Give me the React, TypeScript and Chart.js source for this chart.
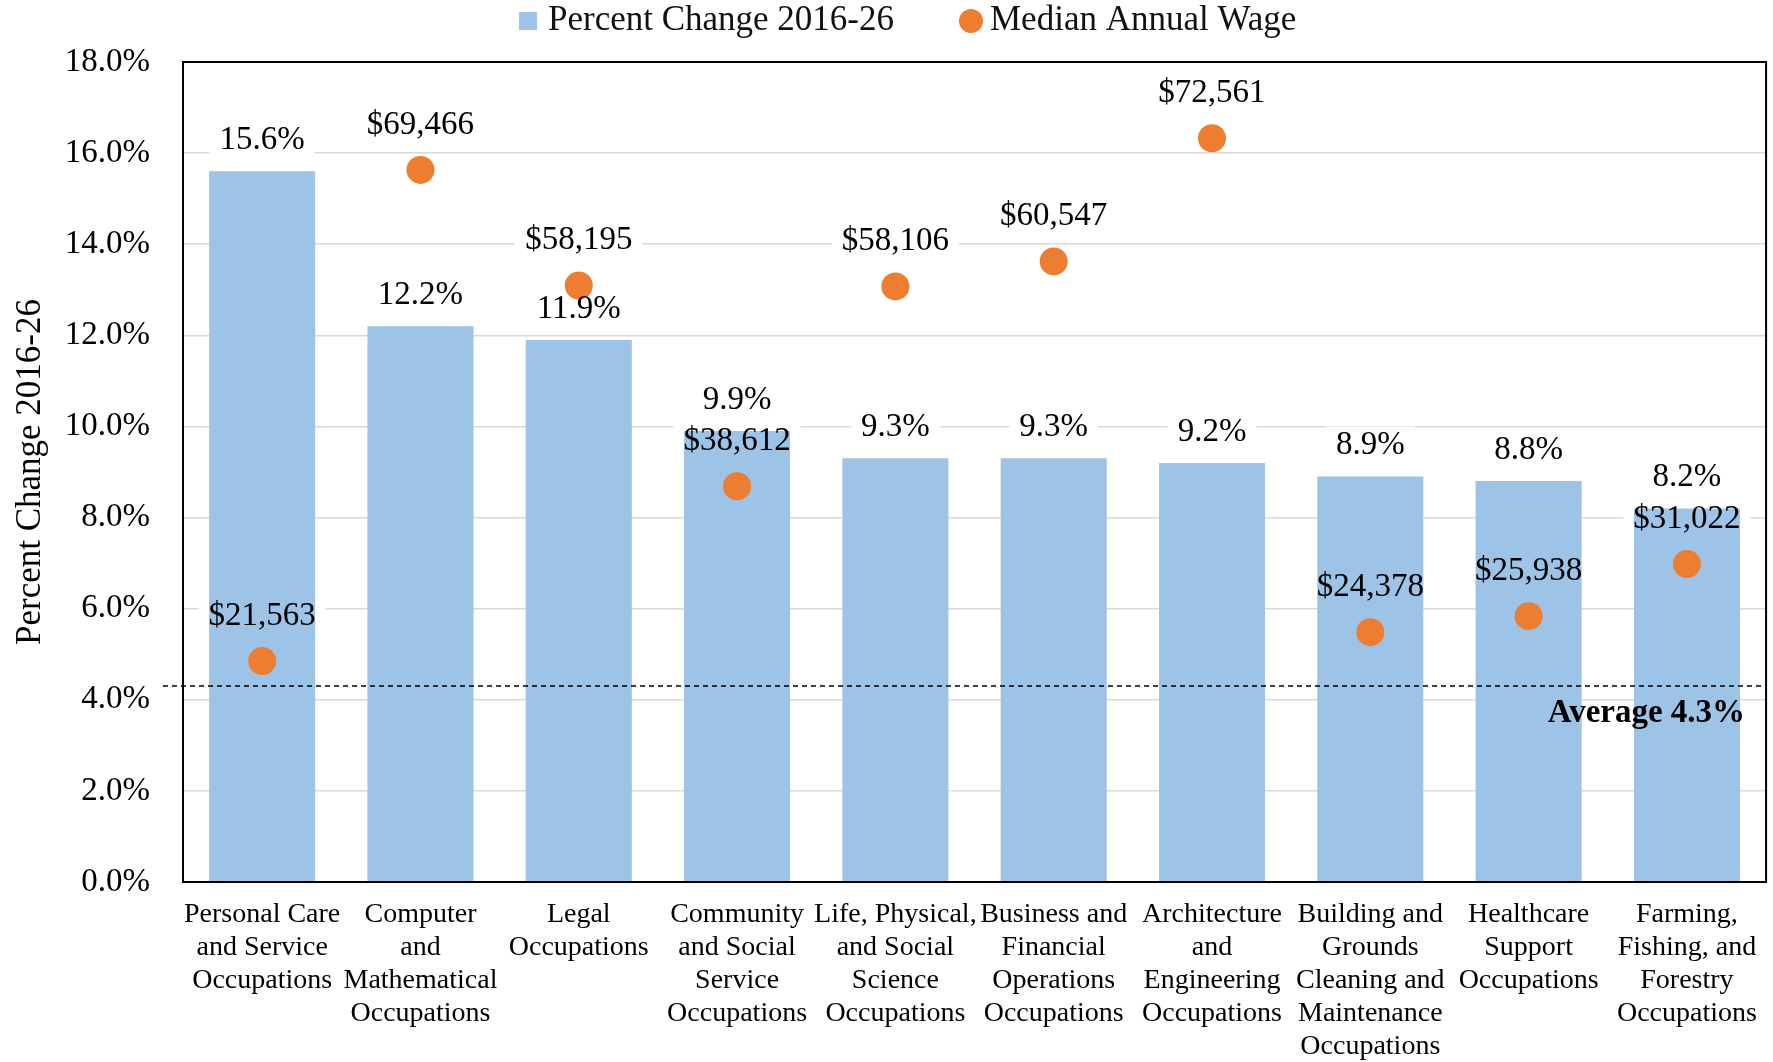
import React, { useEffect, useRef } from 'react';
import { Chart, registerables } from 'chart.js';

Chart.register(...registerables);

const categories: string[][] = [
  ['Personal Care', 'and Service', 'Occupations'],
  ['Computer', 'and', 'Mathematical', 'Occupations'],
  ['Legal', 'Occupations'],
  ['Community', 'and Social', 'Service', 'Occupations'],
  ['Life, Physical,', 'and Social', 'Science', 'Occupations'],
  ['Business and', 'Financial', 'Operations', 'Occupations'],
  ['Architecture', 'and', 'Engineering', 'Occupations'],
  ['Building and', 'Grounds', 'Cleaning and', 'Maintenance', 'Occupations'],
  ['Healthcare', 'Support', 'Occupations'],
  ['Farming,', 'Fishing, and', 'Forestry', 'Occupations'],
];

const percentChange: number[] = [15.6, 12.2, 11.9, 9.9, 9.3, 9.3, 9.2, 8.9, 8.8, 8.2];
const medianWage: number[] = [21563, 69466, 58195, 38612, 58106, 60547, 72561, 24378, 25938, 31022];
const averagePct = 4.3;
const yMin = 0;
const yMax = 18;
const yStep = 2;
const wageAxisMax = 80000;

const seriesNames = ['Percent Change 2016-26', 'Median Annual Wage'];
const axisTitle = 'Percent Change 2016-26';
const averageLabel = 'Average 4.3%';

const FONT = '"Liberation Serif", "Times New Roman", serif';
const BAR_COLOR = '#9DC3E6';
const POINT_COLOR = '#ED7D31';

const fmtPct = (v: number) => v.toFixed(1) + '%';
const fmtWage = (v: number) => '$' + v.toLocaleString('en-US');

const labelPlugin = {
  id: 'customLabels',
  beforeDatasetsDraw(chart: any) {
    const ctx = chart.ctx as CanvasRenderingContext2D;
    ctx.save();
    ctx.font = `33px ${FONT}`;
    ctx.fillStyle = '#ffffff';
    const barMeta = chart.getDatasetMeta(0);
    barMeta.data.forEach((el: any, i: number) => {
      const w = ctx.measureText(fmtPct(percentChange[i])).width + 20;
      const cy = el.y - 31;
      ctx.fillRect(el.x - w / 2, cy - 19, w, 38);
    });
    const ptMeta = chart.getDatasetMeta(1);
    ptMeta.data.forEach((el: any, i: number) => {
      const w = ctx.measureText(fmtWage(medianWage[i])).width + 20;
      const cy = el.y - 45;
      ctx.fillRect(el.x - w / 2, cy - 19, w, 38);
    });
    ctx.restore();
  },
  afterDatasetsDraw(chart: any) {
    const ctx = chart.ctx as CanvasRenderingContext2D;
    const area = chart.chartArea;
    ctx.save();
    const ya = chart.scales.y.getPixelForValue(averagePct);
    ctx.setLineDash([5, 4]);
    ctx.lineWidth = 1.5;
    ctx.strokeStyle = '#000';
    ctx.beginPath();
    ctx.moveTo(area.left - 20, ya);
    ctx.lineTo(area.right, ya);
    ctx.stroke();
    ctx.setLineDash([]);

    ctx.fillStyle = '#000';
    ctx.textAlign = 'center';
    ctx.textBaseline = 'middle';
    ctx.font = `33px ${FONT}`;
    const barMeta = chart.getDatasetMeta(0);
    barMeta.data.forEach((el: any, i: number) => {
      ctx.fillText(fmtPct(percentChange[i]), el.x, el.y - 31);
    });
    const ptMeta = chart.getDatasetMeta(1);
    ptMeta.data.forEach((el: any, i: number) => {
      ctx.fillText(fmtWage(medianWage[i]), el.x, el.y - 45);
    });

    ctx.font = `bold 33px ${FONT}`;
    ctx.textAlign = 'right';
    ctx.fillText(averageLabel, area.right - 21, ya + 27);
    ctx.restore();
  },
  afterDraw(chart: any) {
    const ctx = chart.ctx as CanvasRenderingContext2D;
    const area = chart.chartArea;
    ctx.save();
    ctx.strokeStyle = '#000';
    ctx.lineWidth = 2;
    ctx.strokeRect(area.left, area.top, area.right - area.left, area.bottom - area.top);

    // legend
    const ly = 21;
    ctx.font = `35px ${FONT}`;
    ctx.textBaseline = 'middle';
    ctx.textAlign = 'left';
    ctx.fillStyle = BAR_COLOR;
    ctx.fillRect(519, ly - 9, 18, 18);
    ctx.fillStyle = '#111';
    ctx.fillText(seriesNames[0], 548, ly);
    ctx.fillStyle = POINT_COLOR;
    ctx.beginPath();
    ctx.arc(971, ly, 12, 0, Math.PI * 2);
    ctx.fill();
    ctx.fillStyle = '#111';
    ctx.fillText(seriesNames[1], 990, ly);
    ctx.restore();
  },
};

export default function App() {
  const ref = useRef<HTMLCanvasElement | null>(null);

  useEffect(() => {
    document.body.style.margin = '0';
    if (!ref.current) return;
    const chart = new Chart(ref.current, {
      type: 'bar',
      data: {
        labels: categories,
        datasets: [
          {
            type: 'bar',
            label: seriesNames[0],
            data: percentChange,
            backgroundColor: BAR_COLOR,
            borderWidth: 0,
            categoryPercentage: 1,
            barPercentage: 0.67,
            yAxisID: 'y',
            order: 2,
          } as any,
          {
            type: 'line',
            label: seriesNames[1],
            data: medianWage,
            showLine: false,
            pointRadius: 14,
            pointHoverRadius: 14,
            pointBackgroundColor: POINT_COLOR,
            pointBorderWidth: 0,
            borderColor: POINT_COLOR,
            yAxisID: 'y2',
            order: 1,
          } as any,
        ],
      },
      options: {
        animation: false,
        responsive: false,
        devicePixelRatio: 1,
        layout: { autoPadding: false, padding: { top: 62, right: 2, left: 0, bottom: 0 } },
        plugins: {
          legend: { display: false },
          tooltip: { enabled: false },
        },
        scales: {
          x: {
            grid: { display: false, drawTicks: false },
            border: { display: true, color: '#000', width: 2 },
            ticks: {
              color: '#000',
              font: { family: FONT, size: 28, lineHeight: 1.18 },
              padding: 16,
              maxRotation: 0,
              autoSkip: false,
            },
            afterFit: (s: any) => {
              s.height = 180;
            },
          },
          y: {
            min: yMin,
            max: yMax,
            position: 'left',
            grid: { color: '#d9d9d9', lineWidth: 1.5, drawTicks: false },
            border: { display: true, color: '#000', width: 2 },
            ticks: {
              stepSize: yStep,
              color: '#000',
              font: { family: FONT, size: 33 },
              padding: 33,
              callback: (v: any) => fmtPct(Number(v)),
            },
            title: {
              display: true,
              text: axisTitle,
              color: '#000',
              font: { family: FONT, size: 35, lineHeight: 1.2 },
              padding: { top: 10, bottom: 0 },
            },
            afterFit: (s: any) => {
              s.width = 183;
            },
          },
          y2: {
            display: false,
            min: 0,
            max: wageAxisMax,
          },
        },
      },
      plugins: [labelPlugin],
    });
    return () => chart.destroy();
  }, []);

  return (
    <div style={{ width: 1773, height: 1062 }}>
      <canvas ref={ref} width={1773} height={1062} style={{ width: 1773, height: 1062, display: 'block' }} />
    </div>
  );
}
